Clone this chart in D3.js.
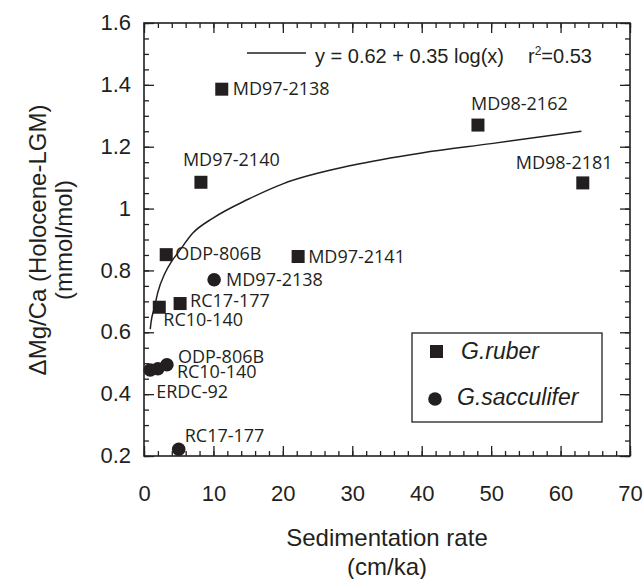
<!DOCTYPE html>
<html>
<head>
<meta charset="utf-8">
<script src="https://cdn.jsdelivr.net/npm/d3@7"></script>
<style>
    body { margin: 0; background: #fff; }
    svg { display: block; }
    .tick text { font-family: "Liberation Sans", Arial, sans-serif; font-size: 22px; fill: #231f20; }
    .tick line { stroke: #231f20; stroke-width: 1.3; }
    .pointLabel { font-family: "Open Sans", sans-serif; font-size: 18px; fill: #231f20; }
    .axisTitle { font-family: "Liberation Sans", Arial, sans-serif; font-size: 24px; fill: #231f20; }
</style>
</head>
<body>
<div class="chart"></div>
<script>

//////////
// DATA //
//////////

// G.ruber (squares)
var ruberNames = ['MD97-2138', 'MD98-2162', 'MD97-2140', 'MD98-2181', 'ODP-806B', 'MD97-2141', 'RC17-177', 'RC10-140'],
    ruberRate = [11.2, 48.1, 8.2, 63.2, 3.2, 22.2, 5.2, 2.2],
    ruberDelta = [1.386, 1.27, 1.085, 1.083, 0.851, 0.845, 0.693, 0.681];

// G.sacculifer (circles)
var saccNames = ['MD97-2138', 'ODP-806B', 'RC10-140', 'ERDC-92', 'RC17-177'],
    saccRate = [10.1, 3.3, 2.0, 0.9, 5.0],
    saccDelta = [0.770, 0.495, 0.482, 0.478, 0.222];

// fitted curve
var fitRate = [0.9, 1, 1.5, 2, 3, 4, 5, 7, 10, 15, 20, 30, 40, 50, 63],
    fitDelta = [0.61, 0.63, 0.68, 0.73, 0.79, 0.83, 0.86, 0.92, 0.97, 1.03, 1.08, 1.14, 1.18, 1.21, 1.25];

var xTicks = [0, 10, 20, 30, 40, 50, 60, 70],
    yTicks = [0.2, 0.4, 0.6, 0.8, 1.0, 1.2, 1.4, 1.6],
    yTickLabels = ['0.2', '0.4', '0.6', '0.8', '1', '1.2', '1.4', '1.6'];

var fitText = 'y = 0.62 + 0.35 log(x)',
    legendNames = ['G.ruber', 'G.sacculifer'];

// label placement (pixels from the mark centre)
var ruberLabelPos = [[11, 6], [-7, -15], [-18, -16], [-67, -14], [9, 5], [10, 6], [10, 3], [4, 19]],
    saccLabelPos = [[12, 6], [11, -2], [19, 9], [6, 28], [6, -7]];

//////////////////////
// INITIAL SETTINGS //
//////////////////////

var w = 644,
    h = 579,
    ink = '#231f20';

var plotLeft = 144, plotRight = 630, plotTop = 23, plotBottom = 456;

var svg = d3.select('.chart')
    .append('svg')
    .attr('width', w)
    .attr('height', h);

////////////
// SCALES //
////////////

var xScale = d3.scaleLinear()
    .domain([0, 70])
    .range([plotLeft, plotRight]);

var yScale = d3.scaleLinear()
    .domain([0.2, 1.6])
    .range([plotBottom, plotTop]);

var xMinor = d3.range(0, 70.1, 2),
    yMinor = d3.range(0.2, 1.601, 0.05);

//////////
// AXES //
//////////

function addAxis(axis, tx, ty) {
    var g = svg.append('g')
        .attr('class', 'axis')
        .attr('transform', 'translate(' + tx + ',' + ty + ')')
        .call(axis);
    g.select('.domain').remove();
    return g;
}

// minor ticks on all four sides
addAxis(d3.axisBottom(xScale).tickValues(xMinor).tickSize(-5).tickFormat(''), 0, plotBottom);
addAxis(d3.axisTop(xScale).tickValues(xMinor).tickSize(-5).tickFormat(''), 0, plotTop);
addAxis(d3.axisLeft(yScale).tickValues(yMinor).tickSize(-5).tickFormat(''), plotLeft, 0);
addAxis(d3.axisRight(yScale).tickValues(yMinor).tickSize(-5).tickFormat(''), plotRight, 0);

// major ticks
var xAxisG = addAxis(d3.axisBottom(xScale).tickValues(xTicks).tickSize(-10).tickPadding(0), 0, plotBottom);
xAxisG.selectAll('text')
    .attr('y', 45)
    .attr('dy', null);

var yAxisG = addAxis(d3.axisLeft(yScale).tickValues(yTicks).tickSize(-10).tickPadding(13)
    .tickFormat(function(d, i) { return yTickLabels[i]; }), plotLeft, 0);
yAxisG.selectAll('text')
    .attr('dy', '0.3em');

addAxis(d3.axisTop(xScale).tickValues(xTicks).tickSize(-10).tickFormat(''), 0, plotTop);
addAxis(d3.axisRight(yScale).tickValues(yTicks).tickSize(-10).tickFormat(''), plotRight, 0);

// frame
svg.append('rect')
    .attr('x', plotLeft)
    .attr('y', plotTop)
    .attr('width', plotRight - plotLeft)
    .attr('height', plotBottom - plotTop)
    .style('fill', 'none')
    .style('stroke', ink)
    .style('stroke-width', 1.6);

/////////////////
// AXIS TITLES //
/////////////////

svg.append('text')
    .attr('class', 'axisTitle')
    .attr('x', (plotLeft + plotRight) / 2)
    .attr('y', 546)
    .attr('text-anchor', 'middle')
    .text('Sedimentation rate');

svg.append('text')
    .attr('class', 'axisTitle')
    .attr('x', (plotLeft + plotRight) / 2)
    .attr('y', 575)
    .attr('text-anchor', 'middle')
    .text('(cm/ka)');

var yTitle = svg.append('g')
    .attr('transform', 'translate(0,' + 240 + ') rotate(-90)');

yTitle.append('text')
    .attr('class', 'axisTitle')
    .attr('x', 0)
    .attr('y', 46)
    .attr('text-anchor', 'middle')
    .text('\u0394Mg/Ca (Holocene-LGM)');

yTitle.append('text')
    .attr('class', 'axisTitle')
    .attr('x', 0)
    .attr('y', 72)
    .attr('text-anchor', 'middle')
    .text('(mmol/mol)');

///////////////
// FIT CURVE //
///////////////

var line = d3.line()
    .x(function(d, i) { return xScale(fitRate[i]); })
    .y(function(d) { return yScale(d); })
    .curve(d3.curveMonotoneX);

svg.append('path')
    .attr('d', line(fitDelta))
    .style('fill', 'none')
    .style('stroke', ink)
    .style('stroke-width', 1.5);

// equation key
svg.append('line')
    .attr('x1', 247)
    .attr('x2', 306)
    .attr('y1', 53)
    .attr('y2', 53)
    .style('stroke', ink)
    .style('stroke-width', 1.3);

var eq = svg.append('text')
    .attr('x', 315)
    .attr('y', 63)
    .style('font-family', '"Liberation Sans", Arial, sans-serif')
    .style('font-size', '20px')
    .style('fill', ink);

eq.append('tspan').text(fitText);
eq.append('tspan').attr('x', 528).text('r');
eq.append('tspan').attr('dy', -8).style('font-size', '12px').text('2');
eq.append('tspan').attr('dy', 8).text('=0.53');

////////////
// POINTS //
////////////

var sq = 13;

svg.selectAll('.ruber')
    .data(ruberDelta)
    .enter()
    .append('rect')
    .attr('class', 'ruber')
    .attr('x', function(d, i) { return xScale(ruberRate[i]) - sq / 2; })
    .attr('y', function(d) { return yScale(d) - sq / 2; })
    .attr('width', sq)
    .attr('height', sq)
    .style('fill', ink);

svg.selectAll('.sacc')
    .data(saccDelta)
    .enter()
    .append('circle')
    .attr('class', 'sacc')
    .attr('cx', function(d, i) { return xScale(saccRate[i]); })
    .attr('cy', function(d) { return yScale(d); })
    .attr('r', 6.8)
    .style('fill', ink);

svg.selectAll('.ruberLabel')
    .data(ruberNames)
    .enter()
    .append('text')
    .attr('class', 'pointLabel')
    .attr('x', function(d, i) { return xScale(ruberRate[i]) + ruberLabelPos[i][0]; })
    .attr('y', function(d, i) { return yScale(ruberDelta[i]) + ruberLabelPos[i][1]; })
    .text(function(d) { return d; });

svg.selectAll('.saccLabel')
    .data(saccNames)
    .enter()
    .append('text')
    .attr('class', 'pointLabel')
    .attr('x', function(d, i) { return xScale(saccRate[i]) + saccLabelPos[i][0]; })
    .attr('y', function(d, i) { return yScale(saccDelta[i]) + saccLabelPos[i][1]; })
    .text(function(d) { return d; });

////////////
// LEGEND //
////////////

var legend = svg.append('g')
    .attr('transform', 'translate(412,333)');

legend.append('rect')
    .attr('width', 190)
    .attr('height', 89)
    .style('fill', '#fff')
    .style('stroke', ink)
    .style('stroke-width', 1.3);

legend.append('rect')
    .attr('x', 18)
    .attr('y', 12)
    .attr('width', 13)
    .attr('height', 13)
    .style('fill', ink);

legend.append('circle')
    .attr('cx', 23)
    .attr('cy', 66)
    .attr('r', 6.8)
    .style('fill', ink);

legend.selectAll('.legendText')
    .data(legendNames)
    .enter()
    .append('text')
    .attr('class', 'legendText')
    .attr('x', function(d, i) { return i === 0 ? 49 : 45; })
    .attr('y', function(d, i) { return i === 0 ? 26 : 72; })
    .style('font-family', '"Liberation Sans", Arial, sans-serif')
    .style('font-size', '23px')
    .style('font-style', 'italic')
    .style('fill', ink)
    .text(function(d) { return d; });

</script>
</body>
</html>
